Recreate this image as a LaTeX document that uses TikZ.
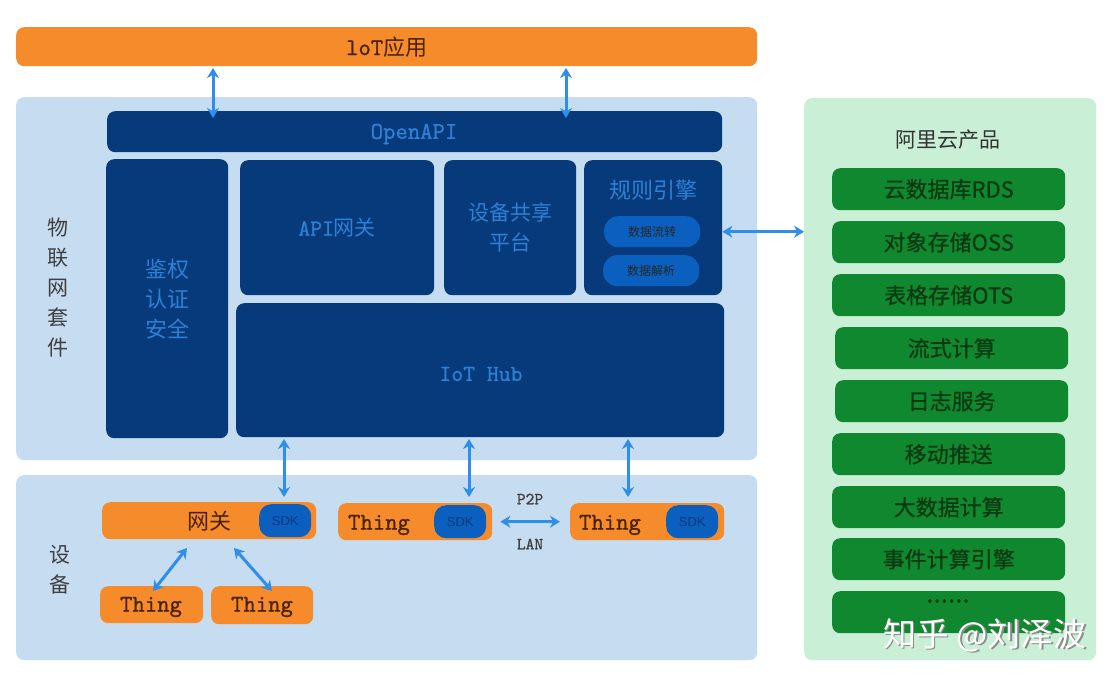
\documentclass[tikz,border=0pt]{standalone}
\usepackage{fontspec}
\setmainfont{Noto Sans CJK SC}
\newfontfamily\latt{Latin Modern Mono}[FakeBold=1.2]
\newfontfamily\cjkb{Noto Sans CJK SC}[FakeBold=0.8]
\newfontfamily\sdkf{Liberation Sans}
\usetikzlibrary{arrows.meta,calc}
\definecolor{orng}{HTML}{F68B2B}
\definecolor{dblue}{HTML}{063A7A}
\definecolor{lbg}{HTML}{C6DCF0}
\definecolor{tblue}{HTML}{2F80D4}
\definecolor{pill}{HTML}{0B5FBF}
\definecolor{arr}{HTML}{2D8FEA}
\definecolor{gbg}{HTML}{C9EFD6}
\definecolor{gitem}{HTML}{10882F}
\definecolor{gtext}{HTML}{0A3A12}
\definecolor{brown}{HTML}{4A2200}
\tikzset{
  box/.style={rounded corners=8pt, anchor=north west, inner sep=0pt},
  panel/.style={box, fill=lbg},
  darkbox/.style={box, fill=dblue, text=tblue},
  orbox/.style={box, fill=orng, text=brown},
  sdkpill/.style={box, fill=pill, rounded corners=12pt, text=dblue, font=\sdkf\fontsize{13}{13}\selectfont},
  rulepill/.style={box, fill=pill, rounded corners=14pt, text=black!85, font=\fontsize{12}{12}\selectfont},
  gitembox/.style={box, fill=gitem, text=gtext, minimum width=233pt, minimum height=42pt, font=\cjkb\fontsize{22}{22}\selectfont},
  biarrow/.style={arr, line width=3pt, {Stealth[length=10pt,width=12pt]}-{Stealth[length=10pt,width=12pt]}},
}
\begin{document}
\begin{tikzpicture}[x=1pt,y=-1pt]
\useasboundingbox (0,0) rectangle (1118,683);
\fill[white] (0,0) rectangle (1118,683);

% IoT app bar
\node[orbox, minimum width=741pt, minimum height=39pt, font=\fontsize{22}{22}\selectfont] (app) at (16,27) {{\latt\fontsize{24}{24}\selectfont loT}应用};

% IoT suite panel
\node[panel, minimum width=741pt, minimum height=363pt] (suite) at (16,97) {};
\node[anchor=center, text=black!75, font=\fontsize{21}{30}\selectfont, align=center] (suitelbl) at (58,288) {物\\联\\网\\套\\件};

\node[darkbox, minimum width=615pt, minimum height=41pt] (openapi) at (107,111) {};
\node[text=tblue, font=\latt\fontsize{24}{24}\selectfont] (openapilbl) at (414,134) {OpenAPI};
\node[darkbox, minimum width=122pt, minimum height=279pt, font=\fontsize{22}{30}\selectfont, align=center] (auth) at (106,159) {鉴权\\认证\\安全};
\node[darkbox, minimum width=194pt, minimum height=135pt, font=\fontsize{21}{21}\selectfont] (apigw) at (240,160) {{\latt\fontsize{23}{23}\selectfont API}网关};
\node[darkbox, minimum width=132pt, minimum height=135pt, font=\fontsize{21}{30}\selectfont, align=center] (share) at (444,160) {设备共享\\平台};
\node[darkbox, minimum width=138pt, minimum height=135pt] (rule) at (584,160) {};
\node[text=tblue, font=\fontsize{22}{22}\selectfont] (ruletitle) at (653,190) {规则引擎};
\node[rulepill, minimum width=96pt, minimum height=31pt] (flow) at (604,216) {数据流转};
\node[rulepill, minimum width=96pt, minimum height=31pt] (parse) at (603,255) {数据解析};
\node[darkbox, minimum width=488pt, minimum height=134pt] (hub) at (236,303) {};
\node[text=tblue, font=\latt\fontsize{23}{23}\selectfont] (hublbl) at (481,374) {IoT Hub};

% device panel
\node[panel, minimum width=741pt, minimum height=185pt] (dev) at (16,475) {};
\node[anchor=center, text=black!75, font=\fontsize{21}{30}\selectfont, align=center] (devlbl) at (60,570) {设\\备};

\node[orbox, minimum width=214pt, minimum height=37pt, font=\fontsize{22}{22}\selectfont] (gw) at (102,502) {网关};
\node[sdkpill, minimum width=52pt, minimum height=33pt] (gwsdk) at (259,504) {SDK};
\node[orbox, minimum width=154pt, minimum height=37pt] (th1) at (338,503) {};
\node[text=brown, font=\latt\fontsize{24}{24}\selectfont] (th1lbl) at (379,525) {Thing};
\node[sdkpill, minimum width=52pt, minimum height=33pt] (th1sdk) at (434,505) {SDK};
\node[orbox, minimum width=154pt, minimum height=37pt] (th2) at (570,503) {};
\node[text=brown, font=\latt\fontsize{24}{24}\selectfont] (th2lbl) at (610,525) {Thing};
\node[sdkpill, minimum width=52pt, minimum height=33pt] (th2sdk) at (666,505) {SDK};
\node[orbox, minimum width=103pt, minimum height=37pt] (th3) at (100,586) {};
\node[text=brown, font=\latt\fontsize{24}{24}\selectfont] (th3lbl) at (151,607) {Thing};
\node[orbox, minimum width=102pt, minimum height=38pt] (th4) at (211,586) {};
\node[text=brown, font=\latt\fontsize{24}{24}\selectfont] (th4lbl) at (262,607) {Thing};
\node[text=black!75, font=\latt\fontsize{17}{17}\selectfont] (p2p) at (530,499) {P2P};
\node[text=black!75, font=\latt\fontsize{17}{17}\selectfont] (lan) at (530,544) {LAN};

% cloud products
\node[box, fill=gbg, minimum width=292pt, minimum height=562pt] (cloud) at (804,98) {};
\node[text=black!80, font=\fontsize{21}{21}\selectfont] (cloudlbl) at (948,140) {阿里云产品};
\node[gitembox] (g1) at (832,168) {云数据库RDS};
\node[gitembox] (g2) at (832,221) {对象存储OSS};
\node[gitembox] (g3) at (832,274) {表格存储OTS};
\node[gitembox] (g4) at (835,327) {流式计算};
\node[gitembox] (g5) at (835,380) {日志服务};
\node[gitembox] (g6) at (832,433) {移动推送};
\node[gitembox] (g7) at (832,486) {大数据计算};
\node[gitembox] (g8) at (832,538) {事件计算引擎};
\node[gitembox] (g9) at (832,591) {};
\node[text=gtext, font=\cjkb\fontsize{26}{26}\selectfont] (dots) at (948,601) {......};

% arrows
\coordinate (a1t) at (213,68); \coordinate (a1b) at (213,118);
\coordinate (a2t) at (566,68); \coordinate (a2b) at (566,118);
\draw[biarrow] (a1t) -- (a1b);
\draw[biarrow] (a2t) -- (a2b);
\draw[biarrow] (rule.east |- flow) -- (cloud.west |- flow);
\draw[biarrow] (284,439) -- (284,497);
\draw[biarrow] (469,439) -- (469,497);
\draw[biarrow] (628,439) -- (628,497);
\draw[biarrow] ($(th1.east)+(8,0)$) -- ($(th2.west)+(-10,0)$);
\draw[biarrow] (187,548) -- (153,591);
\draw[biarrow] (234,548) -- (272,591);

% watermark
\node[text=black!45, font=\fontsize{33}{33}\selectfont] at (986.5,636.5) {知乎 @刘泽波};
\node[text=white, font=\fontsize{33}{33}\selectfont] (wm) at (985,635) {知乎 @刘泽波};
\end{tikzpicture}
\end{document}
